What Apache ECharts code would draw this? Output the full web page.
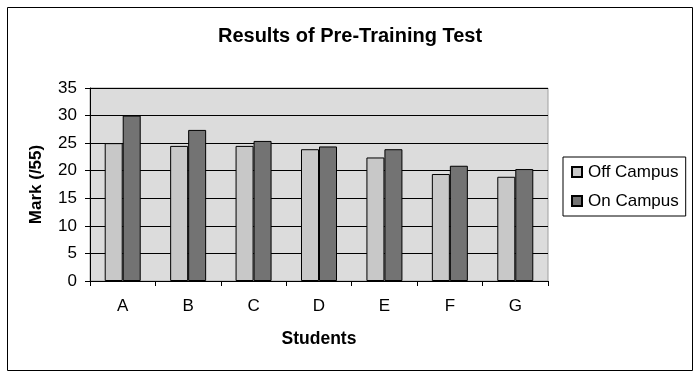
<!DOCTYPE html>
<html>
<head>
<meta charset="utf-8">
<script src="https://cdn.jsdelivr.net/npm/echarts@6/dist/echarts.min.js"></script>
<style>
  html, body { margin: 0; padding: 0; background: #fff; }
  #c { width: 700px; height: 378px; }
</style>
</head>
<body>
<div id="c"></div>
<script>
// data
var students = ['A', 'B', 'C', 'D', 'E', 'F', 'G'];
var offCampus = [25, 24.5, 24.5, 23.9, 22.4, 19.4, 18.9];
var onCampus = [30, 27.4, 25.4, 24.4, 23.9, 20.9, 20.3];

var font = 'Liberation Sans, Arial, sans-serif';
var chart = echarts.init(document.getElementById('c'));
var option = {
    animation: false,
    backgroundColor: '#fff',
    title: {
        text: 'Results of Pre-Training Test',
        left: 'center',
        top: 21,
        textStyle: { fontFamily: font, fontSize: 20, fontWeight: 'bold', color: '#000' }
    },
    graphic: [{
        type: 'rect',
        shape: { x: 7.5, y: 7.5, width: 685, height: 363 },
        style: { fill: null, stroke: '#000', lineWidth: 1 }
    }],
    legend: {
        orient: 'vertical',
        left: 563,
        top: 157,
        padding: [5, 7, 5, 8],
        itemGap: 9,
        itemWidth: 10,
        itemHeight: 10,
        icon: 'rect',
        borderColor: '#000',
        borderWidth: 1,
        textStyle: { fontFamily: font, fontSize: 17, lineHeight: 20, color: '#000', padding: [0, 0, 0, 1] },
        data: ['Off Campus', 'On Campus']
    },
    grid: {
        left: 90, right: 152, top: 88, bottom: 97,
        show: true,
        backgroundColor: '#dcdcdc',
        borderColor: '#a0a0a0',
        borderWidth: 1
    },
    xAxis: {
        type: 'category',
        data: students,
        name: 'Students',
        nameLocation: 'middle',
        nameGap: 49,
        nameTextStyle: { fontFamily: font, fontSize: 17.5, fontWeight: 'bold', color: '#000' },
        axisLine: { lineStyle: { color: '#000' } },
        axisTick: { show: true, length: 5, lineStyle: { color: '#000' } },
        axisLabel: { fontFamily: font, fontSize: 17, color: '#000', margin: 17 }
    },
    yAxis: {
        type: 'value',
        min: 0,
        max: 35,
        interval: 5,
        name: 'Mark (/55)',
        nameLocation: 'middle',
        nameGap: 45,
        nameTextStyle: { fontFamily: font, fontSize: 17, fontWeight: 'bold', color: '#000' },
        axisLine: { show: true, lineStyle: { color: '#000' } },
        axisTick: { show: true, length: 5, lineStyle: { color: '#000' } },
        axisLabel: { fontFamily: font, fontSize: 17, color: '#000', margin: 13 },
        splitLine: { show: true, lineStyle: { color: '#000', width: 1 } }
    },
    series: [{
        name: 'Off Campus',
        type: 'bar',
        data: offCampus,
        barWidth: 18,
        barGap: '0%',
        itemStyle: { color: '#c8c8c8', borderColor: '#000', borderWidth: 1 }
    }, {
        name: 'On Campus',
        type: 'bar',
        data: onCampus,
        barWidth: 18,
        itemStyle: { color: '#737373', borderColor: '#000', borderWidth: 1 }
    }]
};
chart.setOption(option);
</script>
</body>
</html>
